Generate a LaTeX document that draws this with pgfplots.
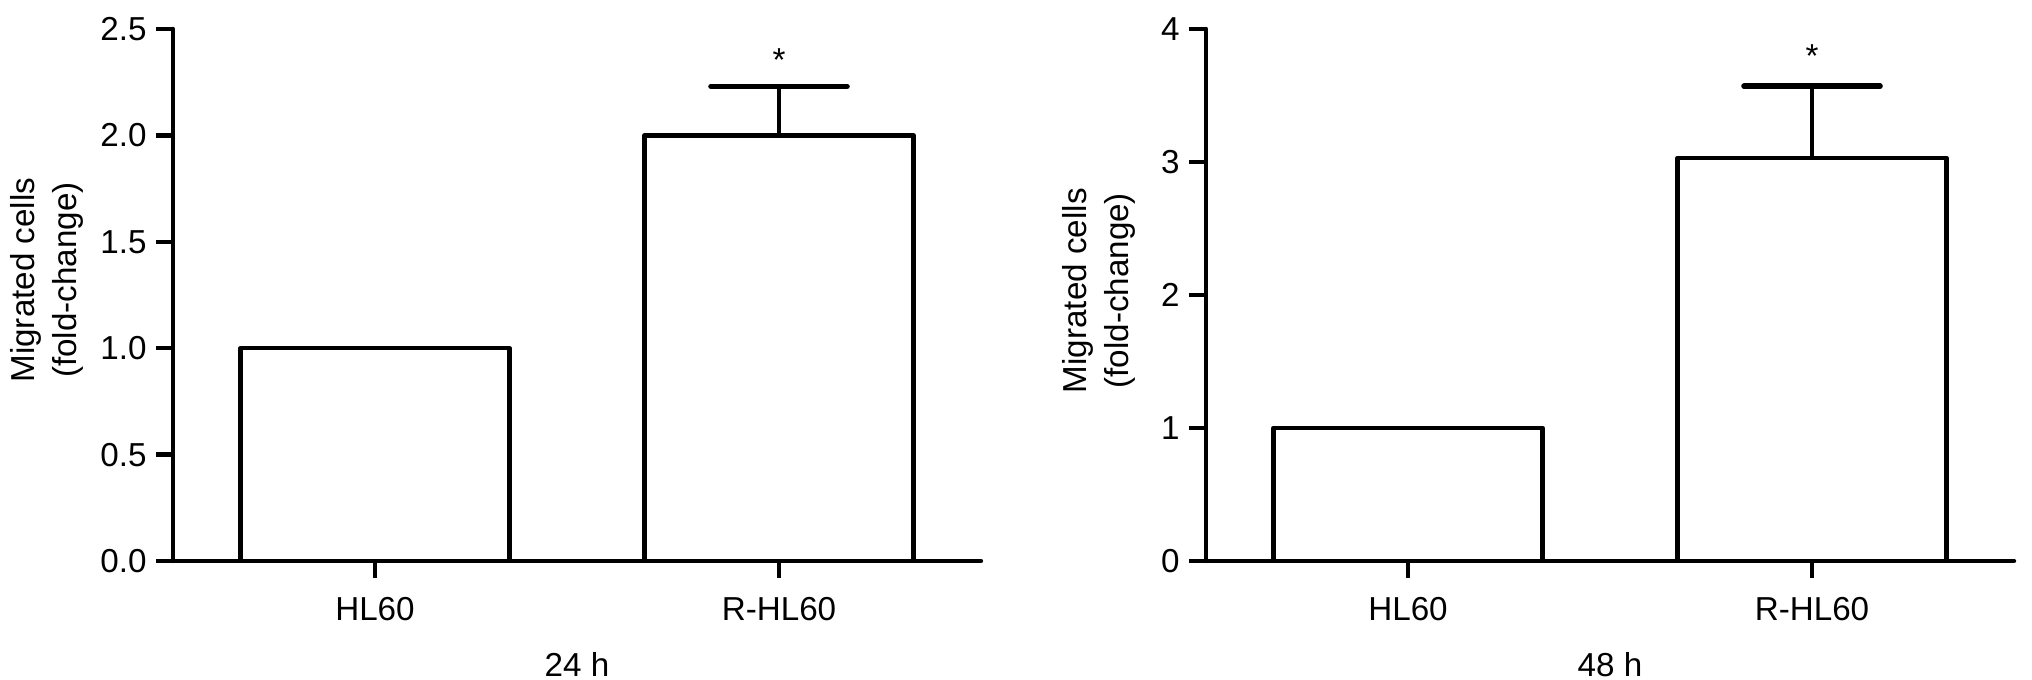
\documentclass[border=0pt]{standalone}
\usepackage{fontspec}
\setmainfont{Liberation Sans}
\usepackage{pgfplots}
\pgfplotsset{compat=1.18}
\usetikzlibrary{calc}

\pgfplotsset{
  migr/.style={
    scale only axis,
    width=202pt, height=133pt,
    ybar, bar width=0.666, bar shift=0pt,
    xmin=-0.5, xmax=1.5, ymin=0,
    enlargelimits=false,
    axis x line=bottom, axis y line=left,
    axis line style={-, line width=1.1pt, line cap=round},
    tick align=outside,
    major tick length=4.3pt,
    tick style={line width=1.1pt, black},
    xtick={0,1}, xticklabels={HL60,R-HL60},
    font=\fontsize{8.3}{10.5}\selectfont,
    /pgf/number format/assume math mode=true,
    ylabel={Migrated cells\\(fold-change)},
    ylabel style={anchor=center, align=center},
    xlabel style={at={(rel axis cs:0.5,0)}, anchor=base, yshift=-29pt},
    xticklabel style={anchor=base, yshift=-10.5pt},
    yticklabel style={xshift=1.2pt},
  },
  bars/.style={
    fill=white, draw=black, line width=1.1pt, line join=round,
  },
  errs/.style={
    bars,
    error bars/.cd, y dir=plus, y explicit,
    error bar style={line width=1.1pt, black},
    error mark options={rotate=90, line width=1.4pt, mark size=17pt, black, line cap=round},
  },
}

\begin{document}
\begin{tikzpicture}
\path[use as bounding box] (0,0) rectangle (508pt,170pt);

% 24 h
\begin{axis}[migr,
  at={(43.25pt,29.75pt)}, anchor=south west,
  ymax=2.5, ytick={0,0.5,1,1.5,2,2.5},
  yticklabel style={/pgf/number format/.cd, fixed, fixed zerofill, precision=1},
  xlabel={24 h},
  ylabel style={at={($(rel axis cs:0,0.528)+(-31.4pt,0)$)}},
]
\addplot[bars] coordinates {(0,1.00)};
\addplot[errs] coordinates {(1,2.00) +- (0,0.23)};
\node[anchor=base, font=\fontsize{8.3}{10}\selectfont] at (axis cs:1,2.30) {*};
\end{axis}

% 48 h
\begin{axis}[migr,
  at={(301.5pt,29.75pt)}, anchor=south west,
  ymax=4, ytick={0,1,2,3,4},
  xlabel={48 h},
  ylabel style={at={($(rel axis cs:0,0.508)+(-26.75pt,0)$)}},
]
\addplot[bars] coordinates {(0,1.00)};
\addplot[errs] coordinates {(1,3.03) +- (0,0.54)};
\node[anchor=base, font=\fontsize{8.3}{10}\selectfont] at (axis cs:1,3.71) {*};
\end{axis}
\end{tikzpicture}
\end{document}
